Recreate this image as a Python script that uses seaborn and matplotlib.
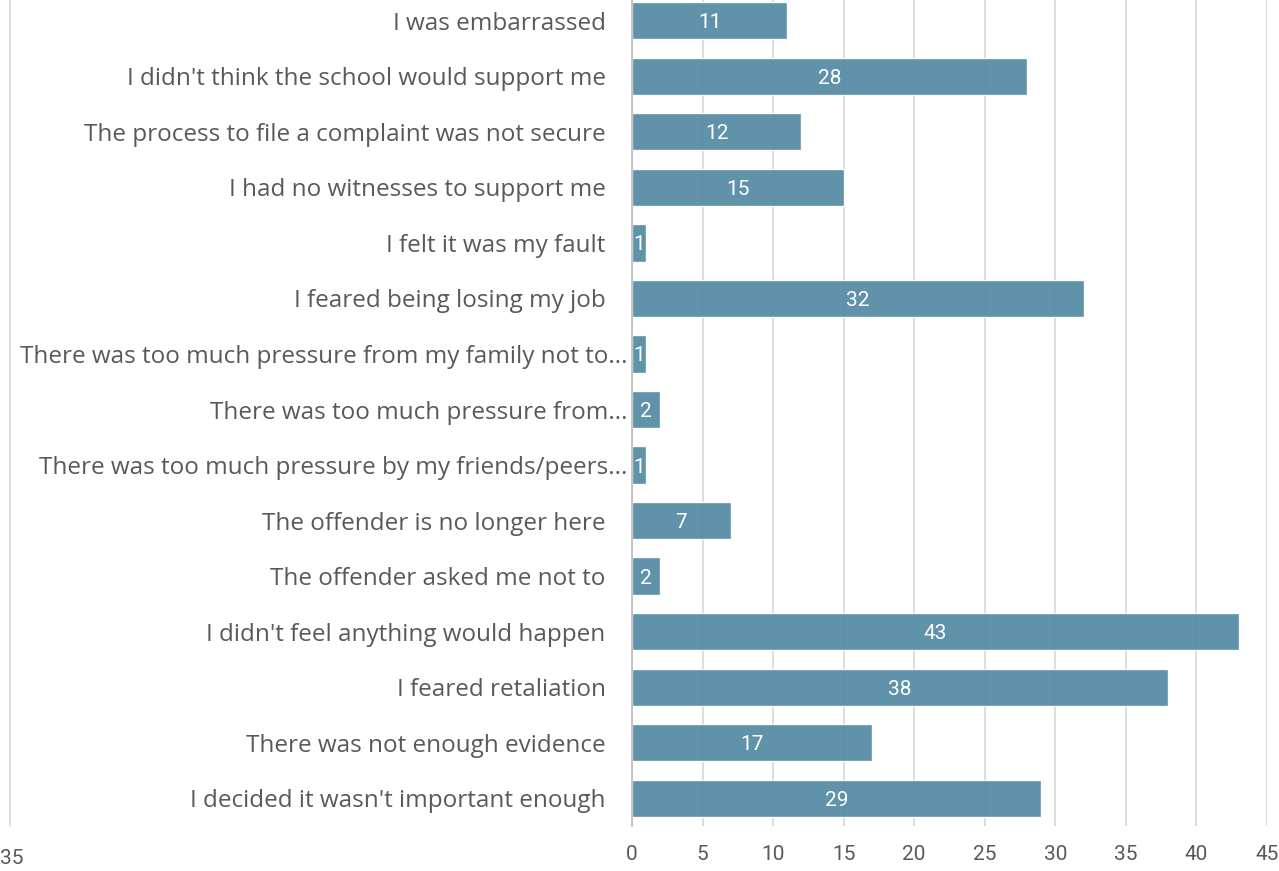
import matplotlib
matplotlib.use("Agg")
import matplotlib.pyplot as plt
import seaborn as sns
import pandas as pd
from matplotlib.lines import Line2D

reasons = [
    "I was embarrassed",
    "I didn't think the school would support me",
    "The process to file a complaint was not secure",
    "I had no witnesses to support me",
    "I felt it was my fault",
    "I feared being losing my job",
    "There was too much pressure from my family not to...",
    "There was too much pressure from...",
    "There was too much pressure by my friends/peers...",
    "The offender is no longer here",
    "The offender asked me not to",
    "I didn't feel anything would happen",
    "I feared retaliation",
    "There was not enough evidence",
    "I decided it wasn't important enough",
]
counts = [11, 28, 12, 15, 1, 32, 1, 2, 1, 7, 2, 43, 38, 17, 29]
x_ticks = [0, 5, 10, 15, 20, 25, 30, 35, 40, 45]

df = pd.DataFrame({"reason": reasons, "count": counts})

sns.set_theme(style="white")
plt.rcParams["font.family"] = ["Open Sans", "DejaVu Sans"]

TEXT = "#595959"
BAR = "#578CA6"
GRID = "#D9D9D9"

fig = plt.figure(figsize=(12.79, 8.71), dpi=100)
ax = fig.add_axes([0.4941, 0.0517, 0.4965, 0.9563])

sns.barplot(data=df, x="count", y="reason", orient="h", color=BAR,
            saturation=1, width=0.67, ax=ax, alpha=0.95, zorder=2)

ax.set_xlim(0, 45)
ax.set_xticks(x_ticks)
ax.set_xticklabels([str(t) for t in x_ticks])
ax.grid(axis="x", color=GRID, linewidth=1.3, zorder=1)
ax.set_axisbelow(True)
ax.set_xlabel("")
ax.set_ylabel("")

for s in ["top", "right", "bottom"]:
    ax.spines[s].set_visible(False)
ax.spines["left"].set_color("#BFBFBF")
ax.spines["left"].set_linewidth(1.3)

ax.tick_params(axis="x", length=0, pad=14, labelsize=15, labelcolor=TEXT)
ax.tick_params(axis="y", length=0, pad=19, labelsize=17.5, labelcolor=TEXT)
for lbl in ax.get_xticklabels():
    lbl.set_fontfamily(["Roboto", "DejaVu Sans"])

# truncated labels use the full width up to the axis line
for tick, name in zip(ax.yaxis.get_major_ticks(), reasons):
    if name.endswith("..."):
        tick.label1.set_x(0.0346)

for container in ax.containers:
    texts = ax.bar_label(container, labels=[str(v) for v in counts],
                         label_type="center", color="white", fontsize=15,
                         family=["Roboto", "DejaVu Sans"])
    for t in texts:
        t.set_verticalalignment("center_baseline")

# leftover gridline and its tick label at the far left edge
fig.add_artist(Line2D([0.0078, 0.0078], [0.052, 1.0], color=GRID, linewidth=1.3,
                      transform=fig.transFigure))
fig.text(0.0, 0.004, "35", color=TEXT, fontsize=15, ha="left", va="bottom",
         family=["Roboto", "DejaVu Sans"])

fig.savefig("out.png", dpi=100)
